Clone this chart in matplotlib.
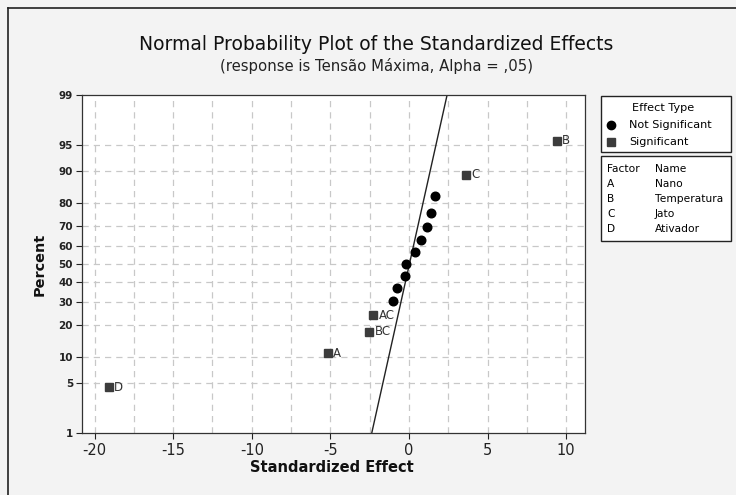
"""
Normal probability plot of standardized effects (Minitab style).
"""

import numpy as np
import matplotlib
matplotlib.use('Agg')
import matplotlib.pyplot as plt
from matplotlib.lines import Line2D
from matplotlib.patches import Rectangle
from statistics import NormalDist

# Podaci očitani sa slike
sig_effects = [-19.1, -5.17, -2.55, -2.28, 3.63, 9.4]
sig_percents = [4.5, 11.0, 17.5, 24.0, 89.0, 95.5]
sig_labels = ['D', 'A', 'BC', 'AC', 'C', 'B']

ns_effects = [-1.04, -0.74, -0.25, -0.17, 0.41, 0.75, 1.14, 1.41, 1.65]
ns_percents = [30.5, 37.0, 43.5, 50.0, 56.5, 63.0, 69.5, 76.0, 82.5]

# Referentna linija (mu + sigma * z)
line_mu = 0.03
line_sigma = 1.03

y_ticks = [1, 5, 10, 20, 30, 40, 50, 60, 70, 80, 90, 95, 99]
x_ticks = [-20, -15, -10, -5, 0, 5, 10]

factors = ['A', 'B', 'C', 'D']
factor_names = ['Nano', 'Temperatura', 'Jato', 'Ativador']

W, H = 736, 495
BG = '#f3f3f3'

plt.rcParams['axes.unicode_minus'] = False

_nd = NormalDist()
_inv = np.vectorize(lambda p: _nd.inv_cdf(min(max(p / 100.0, 1e-9), 1 - 1e-9)), otypes=[float])
_cdf = np.vectorize(lambda z: _nd.cdf(z) * 100.0, otypes=[float])


def fwd(p):
    return _inv(np.asarray(p, dtype=float))


def inv(z):
    return _cdf(np.asarray(z, dtype=float))


def fx(px):
    return px / W


def fy(py):
    return 1 - py / H


def fit_width(txt, target_px, vertical=False):
    """Podesi veličinu fonta tako da tekst ima zadatu širinu u pikselima."""
    r = fig.canvas.get_renderer()
    bb = txt.get_window_extent(r)
    size = bb.height if vertical else bb.width
    txt.set_fontsize(txt.get_fontsize() * target_px / size)


fig = plt.figure(figsize=(W / 100, H / 100), dpi=100)
fig.patch.set_facecolor(BG)

ax = fig.add_axes([fx(82), fy(433), fx(585) - fx(82), fy(95) - fy(433)])
ax.set_facecolor('white')
ax.set_yscale('function', functions=(fwd, inv))
ax.set_ylim(1, 99)
ax.set_xlim(-20.8, 11.2)

# Grid
for gx in np.arange(-20, 11, 2.5):
    ax.axvline(gx, color='#c8c8c8', linestyle=(0, (5, 4)), linewidth=0.9, zorder=0)
for gy in y_ticks[1:-1]:
    ax.axhline(gy, color='#c8c8c8', linestyle=(0, (5, 4)), linewidth=0.9, zorder=0)

# Referentna linija
p_line = np.array([1.0, 99.0])
x_line = line_mu + line_sigma * fwd(p_line)
ax.plot(x_line, p_line, color='#222222', linewidth=1.0, zorder=2)

# Tačke
ax.plot(ns_effects, ns_percents, 'o', color='black', markersize=6.2, zorder=3)
ax.plot(sig_effects, sig_percents, 's', color='#3c3c3c', markersize=6.2, zorder=3)
for xe, pe, lab in zip(sig_effects, sig_percents, sig_labels):
    ax.annotate(lab, (xe, pe), xytext=(4, 0), textcoords='offset points',
                va='center', ha='left', fontsize=8.5, color='#333333')

ax.set_yticks(y_ticks)
ax.set_yticklabels([str(t) for t in y_ticks])
ax.yaxis.set_minor_locator(matplotlib.ticker.NullLocator())
ax.set_xticks(x_ticks)
ax.tick_params(axis='y', labelsize=7.5, length=4.5, width=0.8, pad=2, colors='#222222')
ax.tick_params(axis='x', labelsize=10.5, length=4, width=0.8, pad=3, colors='#222222')
for lab in ax.get_yticklabels():
    lab.set_fontweight('bold')
for sp in ax.spines.values():
    sp.set_color('#333333')
    sp.set_linewidth(0.9)

# Naslovi
t_title = fig.text(fx(376), fy(44), 'Normal Probability Plot of the Standardized Effects',
                   ha='center', va='center', fontsize=12, color='#111111')
t_sub = fig.text(fx(377), fy(66), '(response is Tensão Máxima, Alpha = ,05)',
                 ha='center', va='center', fontsize=10, color='#222222')
t_xl = fig.text(fx(332), fy(467), 'Standardized Effect', ha='center', va='center',
                fontsize=10, fontweight='bold', color='#111111')
t_yl = fig.text(fx(40), fy(264), 'Percent', ha='center', va='center', rotation=90,
                fontsize=10, fontweight='bold', color='#111111')

# Okvir grafika
fig.add_artist(Line2D([fx(7.5), fx(7.5)], [0, fy(8)], transform=fig.transFigure,
                      color='#222222', linewidth=1.2))
fig.add_artist(Line2D([fx(7.5), 1], [fy(8), fy(8)], transform=fig.transFigure,
                      color='#222222', linewidth=1.2))

# Legenda - Effect Type
fig.add_artist(Rectangle((fx(601), fy(152)), fx(731) - fx(601), fy(96) - fy(152),
                         transform=fig.transFigure, facecolor='white',
                         edgecolor='#222222', linewidth=1.0))
t_et = fig.text(fx(663), fy(108), 'Effect Type', ha='center', va='center', fontsize=8)
fig.add_artist(Line2D([fx(611)], [fy(125)], transform=fig.transFigure, marker='o',
                      color='black', markersize=6, linestyle='none'))
t_ns = fig.text(fx(629), fy(125), 'Not Significant', ha='left', va='center', fontsize=8)
fig.add_artist(Line2D([fx(611)], [fy(142)], transform=fig.transFigure, marker='s',
                      color='#3c3c3c', markersize=6, linestyle='none'))
t_s = fig.text(fx(629), fy(142), 'Significant', ha='left', va='center', fontsize=8)

# Legenda - faktori
fig.add_artist(Rectangle((fx(601), fy(241)), fx(731) - fx(601), fy(156) - fy(241),
                         transform=fig.transFigure, facecolor='white',
                         edgecolor='#222222', linewidth=1.0))
fac_texts = [fig.text(fx(607), fy(169), 'Factor', ha='left', va='center', fontsize=7.7),
             fig.text(fx(655), fy(169), 'Name', ha='left', va='center', fontsize=7.7)]
for i, (f, n) in enumerate(zip(factors, factor_names)):
    yy = 184 + i * 15
    fac_texts.append(fig.text(fx(607), fy(yy), f, ha='left', va='center', fontsize=7.7))
    fac_texts.append(fig.text(fx(655), fy(yy), n, ha='left', va='center', fontsize=7.7))

# Veličine fontova prema izmerenim širinama
fig.canvas.draw()
fit_width(t_title, 472)
fit_width(t_sub, 311)
fit_width(t_xl, 163)
fit_width(t_yl, 63, vertical=True)
fit_width(t_ns, 83)
t_s.set_fontsize(t_ns.get_fontsize())
t_et.set_fontsize(t_ns.get_fontsize())
temp = [t for t in fac_texts if t.get_text() == 'Temperatura'][0]
fit_width(temp, 68)
for t in fac_texts:
    t.set_fontsize(temp.get_fontsize())

fig.savefig('out.png', dpi=100, facecolor=BG)
